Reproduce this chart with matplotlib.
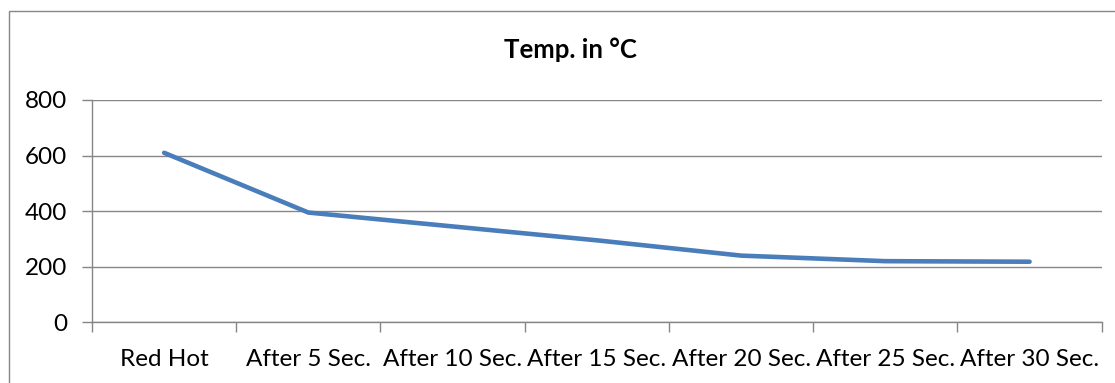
import matplotlib
matplotlib.use("Agg")
import matplotlib.pyplot as plt
from matplotlib.patches import Rectangle
from matplotlib.ticker import FixedLocator

categories = ["Red Hot", "After 5 Sec.", "After 10 Sec.", "After 15 Sec.",
              "After 20 Sec.", "After 25 Sec.", "After 30 Sec."]
temperatures = [610, 395, 345, 295, 240, 220, 218]
y_ticks = [0, 200, 400, 600, 800]
title = "Temp. in °C"

plt.rcParams["font.family"] = ["Lato", "DejaVu Sans"]

grid_color = "#868686"
line_color = "#4A7EBB"

fig = plt.figure(figsize=(11.15, 3.83), dpi=100)
W, H = 1115, 383

# chart frame
fig.patches.append(Rectangle((9 / W, -0.05), 1.2, 1 - 11 / H + 0.05,
                             transform=fig.transFigure, fill=False,
                             edgecolor=grid_color, linewidth=1.0))

ax = fig.add_axes([92 / W, 1 - 322.3 / H, (1101.7 - 92) / W, (322.3 - 100) / H])

x = list(range(1, len(categories) + 1))
ax.plot(x, temperatures, color=line_color, linewidth=3.3,
        solid_capstyle="round", solid_joinstyle="round")

ax.set_xlim(0.5, len(categories) + 0.5)
ax.set_ylim(0, 800)
ax.set_yticks(y_ticks)
ax.yaxis.grid(True, color=grid_color, linewidth=1.0)
ax.set_axisbelow(True)

ax.xaxis.set_major_locator(FixedLocator([i + 0.5 for i in range(0, len(categories) + 1)]))
ax.xaxis.set_minor_locator(FixedLocator(x))
ax.set_xticklabels([], minor=False)
ax.set_xticklabels(categories, minor=True, fontsize=17.5)
ax.tick_params(axis="x", which="major", length=7, color=grid_color, width=1.0)
ax.tick_params(axis="x", which="minor", length=0, pad=19)
ax.tick_params(axis="y", length=7, color=grid_color, width=1.0, labelsize=17.5, pad=11)

for side in ("top", "right"):
    ax.spines[side].set_visible(False)
for side in ("left", "bottom"):
    ax.spines[side].set_color(grid_color)
    ax.spines[side].set_linewidth(1.0)

fig.text(570 / W, 1 - 50 / H, title, ha="center", va="center",
         fontsize=18.5, fontweight="bold")

fig.savefig("out.png", dpi=100)
